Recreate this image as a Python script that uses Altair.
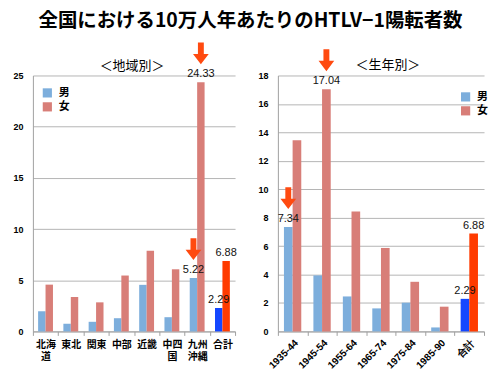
import altair as alt
import pandas as pd

# ---- data ----
regions = ["北海道", "東北", "関東", "中部", "近畿", "中四国", "九州沖縄", "合計"]
region_male = [1.97, 0.75, 0.94, 1.29, 4.55, 1.39, 5.22, 2.29]
region_female = [4.57, 3.36, 2.84, 5.46, 7.88, 6.07, 24.33, 6.88]

cohorts = ["1935-44", "1945-54", "1955-64", "1965-74", "1975-84", "1985-90", "合計"]
cohort_male = [7.34, 3.94, 2.46, 1.62, 2.02, 0.28, 2.29]
cohort_female = [13.45, 17.04, 8.44, 5.87, 3.49, 1.74, 6.88]

region_labels = [("九州沖縄", "男"), ("九州沖縄", "女"), ("合計", "男"), ("合計", "女")]
region_arrows = [("九州沖縄", "男"), ("九州沖縄", "女")]
cohort_labels = [("1935-44", "男"), ("1945-54", "女"), ("合計", "男"), ("合計", "女")]
cohort_arrows = [("1935-44", "男"), ("1945-54", "女")]

MALE = "#7DAEDC"
FEMALE = "#D87E78"
MALE_T = "#1447FF"
FEMALE_T = "#FF3B00"
ARROW = "#FF4A10"
FONT = "Noto Sans CJK JP"

ARROW_PATH = "M-0.27,-1 L0.27,-1 L0.27,0.05 L0.72,0.05 L0,1 L-0.72,0.05 L-0.27,0.05 Z"


def make_df(cats, male, female):
    rows = []
    for c, m, f in zip(cats, male, female):
        total = c == "合計"
        rows.append({"cat": c, "sex": "男", "value": m, "grp": "男計" if total else "男"})
        rows.append({"cat": c, "sex": "女", "value": f, "grp": "女計" if total else "女"})
    return pd.DataFrame(rows)


def panel(cats, male, female, labels, arrows, ymax, ystep, width, title,
          title_dx, title_offset, leg_x, leg_y, x_axis):
    df = make_df(cats, male, female)
    lab_df = df[df.apply(lambda r: (r["cat"], r["sex"]) in labels, axis=1)]
    arr_df = df[df.apply(lambda r: (r["cat"], r["sex"]) in arrows, axis=1)]

    x = alt.X("cat:N", sort=cats, title=None, axis=x_axis,
              scale=alt.Scale(paddingInner=0, paddingOuter=0))
    xo = alt.XOffset("sex:N", sort=["男", "女"],
                     scale=alt.Scale(paddingOuter=0.7, paddingInner=0))
    y = alt.Y("value:Q", title=None,
              scale=alt.Scale(domain=[0, ymax], nice=False),
              axis=alt.Axis(values=list(range(0, ymax + 1, ystep)), ticks=False,
                            labelFont="Liberation Sans", labelFontWeight="bold",
                            labelFontSize=9, labelColor="#000", labelPadding=10,
                            domainColor="#a0a0a0", gridColor="#b4b4b4",
                            gridWidth=1))

    bars = alt.Chart(df).mark_bar().encode(
        x=x, xOffset=xo, y=y,
        color=alt.Color("grp:N",
                        scale=alt.Scale(domain=["男", "女", "男計", "女計"],
                                        range=[MALE, FEMALE, MALE_T, FEMALE_T]),
                        legend=alt.Legend(values=["男", "女"], title=None,
                                          orient="none", legendX=leg_x, legendY=leg_y,
                                          symbolType="square", symbolSize=85,
                                          symbolStrokeWidth=0, labelFont=FONT,
                                          labelFontSize=11, labelFontWeight="bold",
                                          labelColor="#000", rowPadding=2,
                                          padding=0, labelOffset=6)),
    )
    text = alt.Chart(lab_df).mark_text(
        baseline="bottom", dy=-3, font="Liberation Sans", fontSize=11,
        color="#111"
    ).encode(x=x, xOffset=xo, y=y, text=alt.Text("value:Q", format=".2f"))
    arr = alt.Chart(arr_df).mark_point(
        shape=ARROW_PATH, filled=True, color=ARROW, opacity=1, size=480,
        yOffset=-29, strokeWidth=0
    ).encode(x=x, xOffset=xo, y=y)

    return alt.layer(bars, text, arr).properties(
        width=width, height=257,
        title=alt.TitleParams(title, font=FONT, fontSize=13, fontWeight="normal",
                              color="#000", offset=title_offset, dx=title_dx),
    )


left_axis = alt.Axis(labelAngle=0, labelFont=FONT, labelFontSize=10,
                     labelFontWeight="bold", labelColor="#000", tickBand="extent",
                     tickColor="#a0a0a0", tickSize=4, domainColor="#a0a0a0",
                     labelPadding=4, labelLineHeight=12.5,
                     labelExpr="datum.label == '北海道' ? ['北海','道'] : datum.label == '中四国' ? ['中四','国'] : datum.label == '九州沖縄' ? ['九州','沖縄'] : datum.label")
right_axis = alt.Axis(labelAngle=-45, labelFont="Liberation Sans", labelFontSize=10,
                      labelFontWeight="bold", labelColor="#000", tickBand="extent",
                      tickColor="#a0a0a0", tickSize=4, domainColor="#a0a0a0",
                      labelPadding=2)

left = panel(regions, region_male, region_female, region_labels, region_arrows,
             25, 5, 203, "＜地域別＞", -2, -31, 9, 12, left_axis)
right = panel(cohorts, cohort_male, cohort_female, cohort_labels, cohort_arrows,
              18, 2, 207, "＜生年別＞", 7, -23, 183, 16, right_axis)

chart = alt.hconcat(left, right, spacing=43, bounds="flush").resolve_scale(
    color="independent", x="independent", y="independent", xOffset="independent"
).properties(
    title=alt.TitleParams("全国における10万人年あたりのHTLV−1陽転者数", font=FONT,
                          fontSize=19.5, fontWeight="bold", color="#000",
                          anchor="middle", offset=11),
    padding={"left": 4, "top": 2, "right": 4, "bottom": 4},
).configure_view(stroke=None).configure_axis(grid=True).configure_axisX(grid=False)

chart.save("out.html", embed_options={"renderer": "svg", "actions": False})
